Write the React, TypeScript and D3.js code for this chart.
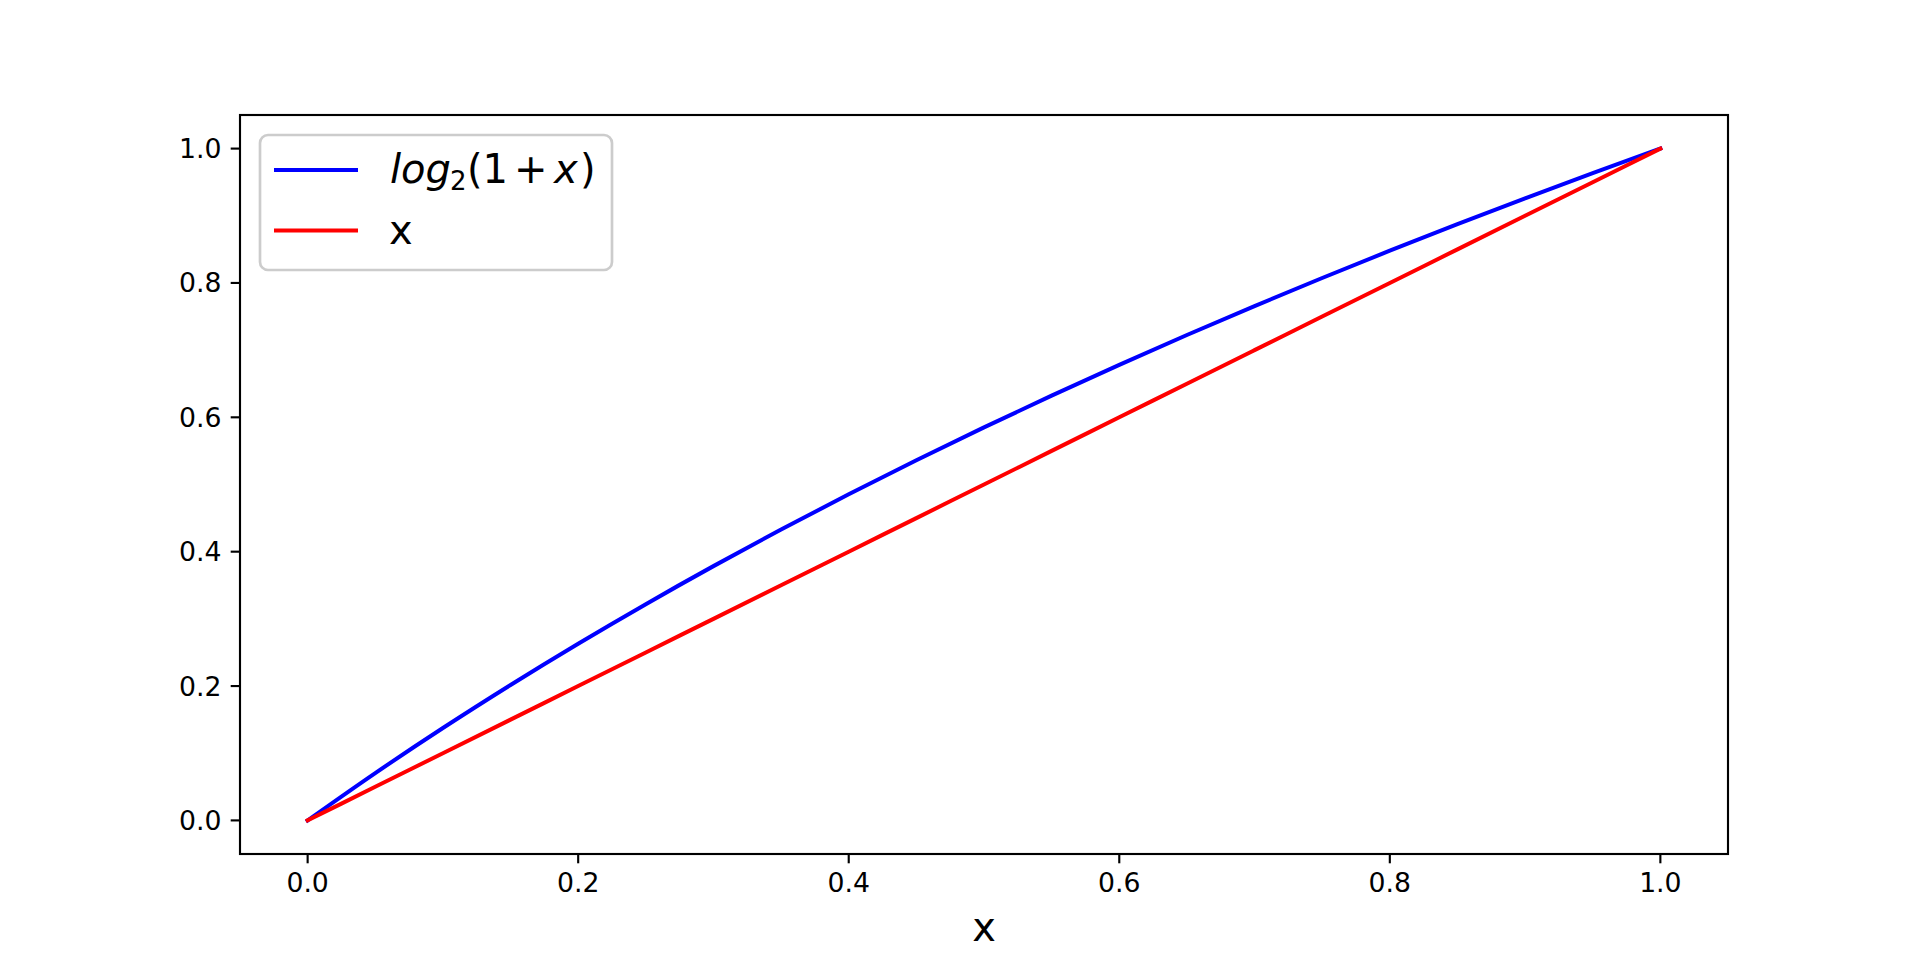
import React from "react";
import * as d3 from "d3";

const xValues = [0, 0.05, 0.1, 0.15, 0.2, 0.25, 0.3, 0.35, 0.4, 0.45, 0.5, 0.55, 0.6, 0.65, 0.7, 0.75, 0.8, 0.85, 0.9, 0.95, 1.0];
const logValues = [0, 0.0704, 0.1375, 0.2016, 0.263, 0.3219, 0.3785, 0.433, 0.4854, 0.5361, 0.585, 0.6323, 0.6781, 0.7225, 0.7655, 0.8074, 0.848, 0.8875, 0.926, 0.9635, 1.0];
const linearValues = [0, 0.05, 0.1, 0.15, 0.2, 0.25, 0.3, 0.35, 0.4, 0.45, 0.5, 0.55, 0.6, 0.65, 0.7, 0.75, 0.8, 0.85, 0.9, 0.95, 1.0];
const xTicks = [0, 0.2, 0.4, 0.6, 0.8, 1.0];
const yTicks = [0, 0.2, 0.4, 0.6, 0.8, 1.0];

const W = 1920, H = 960;
const L = 240, R = 1728, T = 115, B = 854;
const FONT = "'DejaVu Sans', sans-serif";

export default function App() {
  const x = d3.scaleLinear().domain([-0.05, 1.05]).range([L, R]);
  const y = d3.scaleLinear().domain([-0.05, 1.05]).range([B, T]);
  const line = d3.line<number>().x((_, i) => x(xValues[i])).y((d) => y(d)).curve(d3.curveMonotoneX);
  const tickLen = 9.3;
  const pad = 9.3;
  const spineW = 2.13;
  const lw = 4;
  const tickFs = 26.7;
  const legFs = 40;
  return (
    <svg width={W} height={H} style={{ position: "absolute", left: 0, top: 0, background: "#fff" }} fontFamily={FONT}>
      <rect x={0} y={0} width={W} height={H} fill="#fff" />
      <path d={line(logValues) || ""} fill="none" stroke="#0000ff" strokeWidth={lw} strokeLinecap="square" strokeLinejoin="round" />
      <path d={line(linearValues) || ""} fill="none" stroke="#ff0000" strokeWidth={lw} strokeLinecap="square" strokeLinejoin="round" />
      <rect x={L} y={T} width={R - L} height={B - T} fill="none" stroke="#000" strokeWidth={spineW} />
      {xTicks.map((t) => (
        <g key={"x" + t}>
          <line x1={x(t)} x2={x(t)} y1={B} y2={B + tickLen} stroke="#000" strokeWidth={spineW} />
          <text x={x(t)} y={B + tickLen + pad + 19.4} textAnchor="middle" fontSize={tickFs} fill="#000">{t.toFixed(1)}</text>
        </g>
      ))}
      {yTicks.map((t) => (
        <g key={"y" + t}>
          <line x1={L - tickLen} x2={L} y1={y(t)} y2={y(t)} stroke="#000" strokeWidth={spineW} />
          <text x={L - tickLen - pad} y={y(t) + 9.5} textAnchor="end" fontSize={tickFs} fill="#000">{t.toFixed(1)}</text>
        </g>
      ))}
      <text x={(L + R) / 2} y={941} textAnchor="middle" fontSize={legFs} fill="#000">x</text>
      <g>
        <rect x={260} y={135} width={352} height={135} rx={8} ry={8} fill="#fff" fillOpacity={0.8} stroke="#cccccc" strokeWidth={2.67} />
        <line x1={276} x2={356} y1={170} y2={170} stroke="#0000ff" strokeWidth={lw} strokeLinecap="square" />
        <line x1={276} x2={356} y1={230.5} y2={230.5} stroke="#ff0000" strokeWidth={lw} strokeLinecap="square" />
        <text y={183} fontSize={legFs} fill="#000">
          <tspan x={390} fontStyle="italic">log</tspan>
          <tspan x={450} dy={7} fontSize={26}>2</tspan>
          <tspan x={467} dy={-7}>(1</tspan>
          <tspan x={514}>+</tspan>
          <tspan x={554} fontStyle="italic">x</tspan>
          <tspan x={580}>)</tspan>
        </text>
        <text x={389} y={244} fontSize={legFs} fill="#000">x</text>
      </g>
    </svg>
  );
}
